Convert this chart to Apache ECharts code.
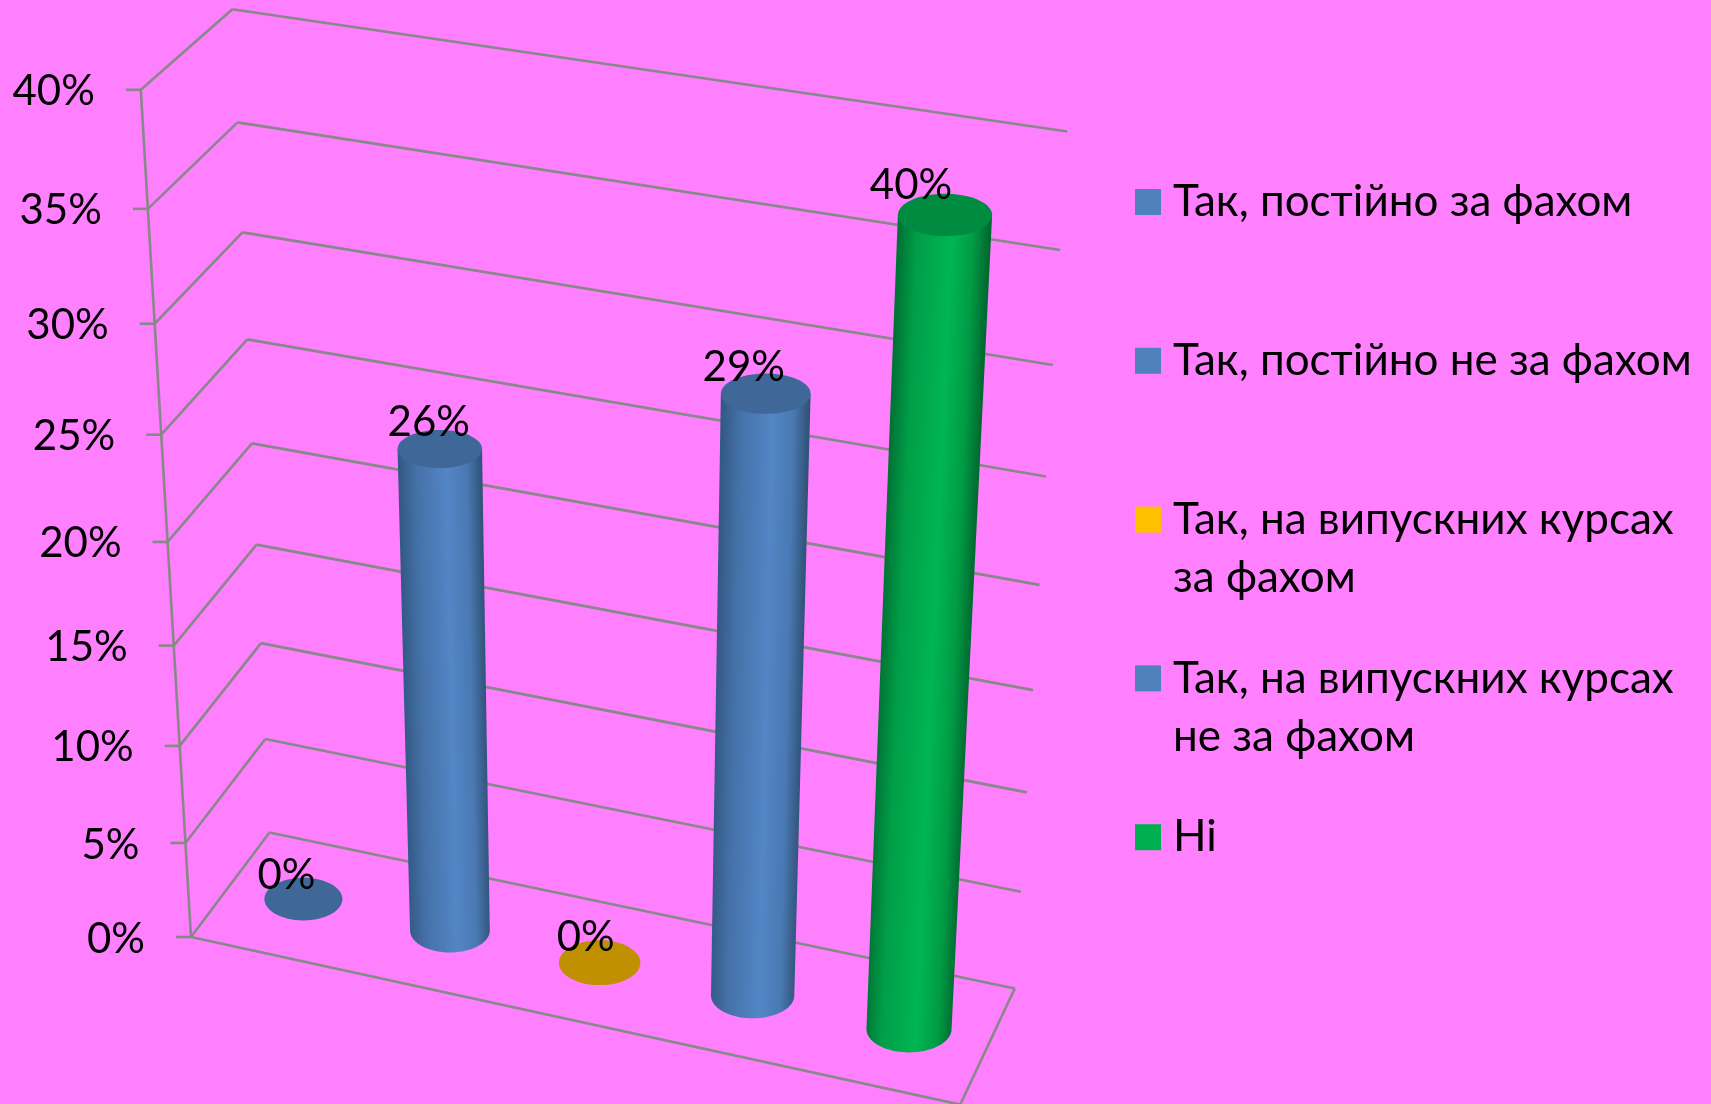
<!DOCTYPE html>
<html>
<head>
<meta charset="utf-8">
<style>html,body{margin:0;padding:0;background:#FF80FF}#c{width:1711px;height:1104px}</style>
<script src="https://cdn.jsdelivr.net/npm/echarts@6/dist/echarts.min.js"></script>
</head>
<body>
<div id="c"></div>
<script>
// ---- data ----
const categories = [
  'Так, постійно за фахом',
  'Так, постійно не за фахом',
  'Так, на випускних курсах\nза фахом',
  'Так, на випускних курсах\nне за фахом',
  'Ні'
];
const valueLabels = ['0%', '26%', '0%', '29%', '40%'];      // printed above each cylinder
const drawnHeights = [0, 25.2, 0, 30.6, 40];                // cylinder heights as read against the perspective
const yTicks = [0, 5, 10, 15, 20, 25, 30, 35, 40];
const yTickLabels = ['0%', '5%', '10%', '15%', '20%', '25%', '30%', '35%', '40%'];
const barColors = ['#4F81BD', '#4F81BD', '#FFC000', '#4F81BD', '#00B050'];
const capColors = ['#3F6797', '#3F6797', '#C09000', '#3F6797', '#008C40'];

// ---- layout: the picture's perspective, as planes in screen space ----
const FAMILY = 'Lato, Carlito, "Open Sans", sans-serif';
const FONT = '42px ' + FAMILY;
const LINE = '#888888';
const GRID = {left: 100, top: 50, width: 800, height: 800};
const wallBack = [[269.5, 832.5], [1014.8, 988.5], [1067.2, 131.5], [232.4, 9.2]];
const wallLeft = [[269.5, 832.5], [191, 937], [140.8, 89.8], [232.4, 9.2]];
const floorFrontRight = [960.2, 1104.6];
const barPlane = [[303.4, 899.1], [909, 1029], [945, 215], [270.6, 109]];
const labelOffsets = [[-17, -24], [-11, -27], [-14, -25], [-22, -26], [-34, -30]];
const BAR_HALF = 0.0658, CAP_RATIO = 0.225, BASE_RATIO = 0.275;

function homography(q) {
  const [[x0, y0], [x1, y1], [x2, y2], [x3, y3]] = q;
  const dx1 = x1 - x2, dx2 = x3 - x2, sx = x0 - x1 + x2 - x3;
  const dy1 = y1 - y2, dy2 = y3 - y2, sy = y0 - y1 + y2 - y3;
  const den = dx1 * dy2 - dx2 * dy1;
  const g = (sx * dy2 - dx2 * sy) / den, h = (dx1 * sy - sx * dy1) / den;
  const a = x1 - x0 + g * x1, b = x3 - x0 + h * x3, d = y1 - y0 + g * y1, e = y3 - y0 + h * y3;
  return (u, v) => {
    const w = g * u + h * v + 1;
    return [(a * u + b * v + x0) / w, (d * u + e * v + y0) / w];
  };
}
const H = {back: homography(wallBack), left: homography(wallLeft), bar: homography(barPlane)};

// pixel in the (hidden) ECharts grid -> normalised plot position
const norm = p => [(p[0] - GRID.left) / GRID.width, (GRID.top + GRID.height - p[1]) / GRID.height];

function lineEl(a, b) {
  return {type: 'line', silent: true, shape: {x1: a[0], y1: a[1], x2: b[0], y2: b[1]},
          style: {stroke: LINE, lineWidth: 2.6}};
}

function renderWalls(params, api) {
  const tick = api.value(1);
  const v = norm(api.coord([0, tick]))[1];
  const front = H.left(1, v), back = H.back(0, v), right = H.back(1, v);
  const children = [
    lineEl([front[0] - 15, front[1]], front),
    lineEl(front, back),
    lineEl(back, right),
    {type: 'text', silent: true, style: {
      text: yTickLabels[params.dataIndex], x: front[0] - 46, y: front[1] + 2,
      font: FONT, fill: '#000', align: 'right', verticalAlign: 'middle'}}
  ];
  if (tick === 0) {
    const topFront = H.left(1, 1);
    children.push(lineEl(front, topFront), lineEl(front, floorFrontRight), lineEl(floorFrontRight, right));
  }
  return {type: 'group', children};
}

function ellipsePts(c, rx, ry, from, to, n) {
  const pts = [];
  for (let i = 0; i <= n; i++) {
    const t = from + (to - from) * i / n;
    pts.push([c[0] + rx * Math.cos(t), c[1] + ry * Math.sin(t)]);
  }
  return pts;
}

const shades = {
  '#4F81BD': ['#335985', '#4470A6', '#5386C6', '#4A79B3', '#315379'],
  '#00B050': ['#007434', '#009E48', '#00B653', '#009C45', '#006A30'],
  '#FFC000': ['#C09000', '#E0A800', '#FFC000', '#E0A800', '#C09000']
};

function makeRender(i) {
  return function (params, api) {
    const cat = api.value(0), val = api.value(1);
    const n = norm(api.coord([cat, val]));
    const n0 = norm(api.coord([cat, 0]));
    const u = cat / (categories.length - 1);
    const scaleAt = v => {
      const a = H.bar(u - BAR_HALF, v), b = H.bar(u + BAR_HALF, v);
      return Math.hypot(b[0] - a[0], b[1] - a[1]) / 2;
    };
    const bottom = H.bar(u, n0[1]), top = H.bar(u, n[1]);
    const rb = scaleAt(n0[1]), rt = scaleAt(n[1]);
    const children = [];
    if (val > 0) {
      // top-left, down the left side, under the base, up the right side, top-right
      const base = ellipsePts(bottom, rb, rb * BASE_RATIO * 2, Math.PI, 0, 40);
      const outline = [[top[0] - rt, top[1]]].concat(base, [[top[0] + rt, top[1]]]);
      const s = shades[barColors[i]];
      // shading runs across the leaning tube, square to its axis
      const ax = top[0] - bottom[0], ay = top[1] - bottom[1], len = Math.hypot(ax, ay);
      const px = -ay / len, py = ax / len;
      const mx = (top[0] + bottom[0]) / 2, my = (top[1] + bottom[1]) / 2, r = (rb + rt) / 2;
      children.push({type: 'polygon', silent: true, shape: {points: outline}, style: {
        fill: {type: 'linear', global: true, x: mx - px * r, y: my - py * r, x2: mx + px * r, y2: my + py * r,
               colorStops: [{offset: 0, color: s[0]}, {offset: 0.2, color: s[1]},
                            {offset: 0.58, color: s[2]}, {offset: 0.82, color: s[3]}, {offset: 1, color: s[4]}]}
      }});
    }
    const ratio = val > 0 ? CAP_RATIO : BASE_RATIO;
    children.push({type: 'ellipse', silent: true,
      shape: {cx: top[0], cy: top[1], rx: rt, ry: rt * ratio * 2}, style: {fill: capColors[i]}});
    const off = labelOffsets[i];
    children.push({type: 'text', silent: true, style: {
      text: valueLabels[i], x: top[0] + off[0], y: top[1] + off[1],
      font: FONT, fill: '#000', align: 'center', verticalAlign: 'middle'}});
    return {type: 'group', children};
  };
}

const barSeries = categories.map((name, i) => ({
  name, type: 'custom', coordinateSystem: 'cartesian2d', silent: true, animation: false, z: 5,
  itemStyle: {color: barColors[i]},
  encode: {x: 0, y: 1},
  data: [[i, drawnHeights[i]]],
  renderItem: makeRender(i)
}));

const chart = echarts.init(document.getElementById('c'), null, {renderer: 'canvas'});
chart.setOption({
  animation: false,
  backgroundColor: '#FF80FF',
  grid: GRID,
  xAxis: {type: 'category', show: false, data: categories},
  yAxis: {type: 'value', show: false, min: 0, max: 40, interval: 5},
  legend: {
    orient: 'vertical', left: 1135, top: 115, padding: 0, selectedMode: false,
    itemWidth: 26, itemHeight: 26, itemGap: -15.2, icon: 'rect',
    data: categories,
    formatter: n => '\n' + n + (n.indexOf('\n') < 0 ? '\n ' : ''),
    textStyle: {fontFamily: FAMILY, fontSize: 44, lineHeight: 58, color: '#000', padding: [0, 0, 0, 7]}
  },
  tooltip: {show: false},
  series: [{
    name: 'walls', type: 'custom', coordinateSystem: 'cartesian2d', silent: true, animation: false, z: 1,
    encode: {x: 0, y: 1},
    data: yTicks.map(t => [0, t]),
    renderItem: renderWalls
  }].concat(barSeries)
});
</script>
</body>
</html>
